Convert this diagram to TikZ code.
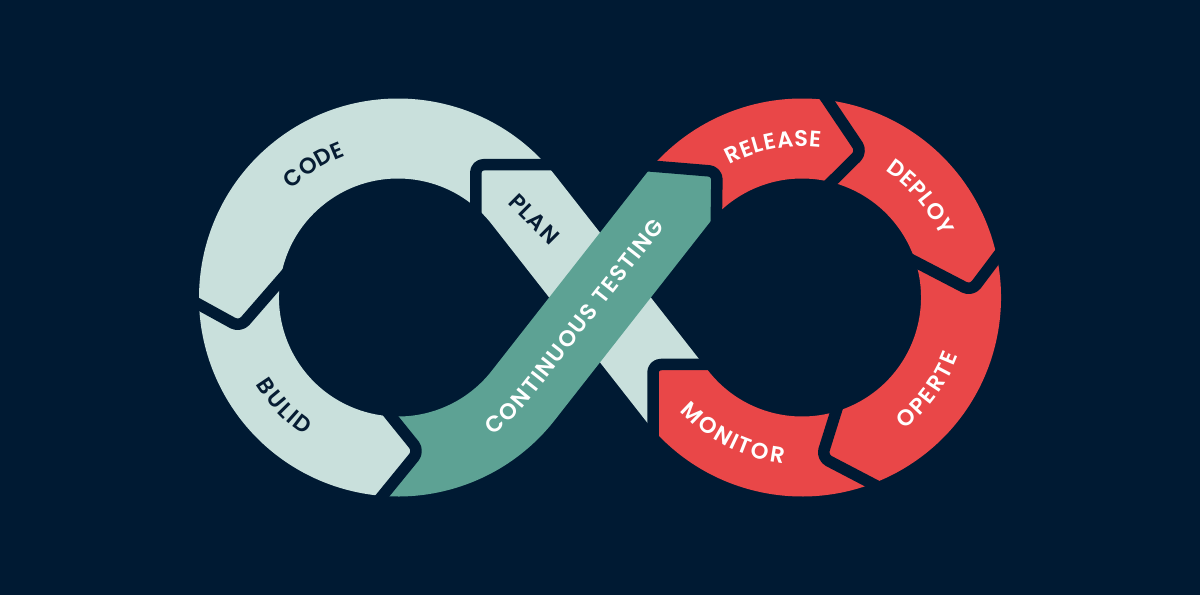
\documentclass[tikz,border=0pt]{standalone}
\usepackage{fontspec}
\setmainfont{Poppins}
\newfontfamily\labfont{Poppins SemiBold}
\usetikzlibrary{decorations.text}
\definecolor{cBg}{HTML}{001A33}
\definecolor{cLight}{HTML}{C9E0DC}
\definecolor{cTeal}{HTML}{5DA294}
\definecolor{cRed}{HTML}{E94748}
\definecolor{cNavy}{HTML}{061C33}
\newcommand\lab{\labfont\fontsize{22.5}{22.5}\selectfont}
\newcommand\lsp{\kern1.3pt}
\begin{document}
\begin{tikzpicture}[x=1pt,y=1pt,
  band/.style={line width=80pt},
  gapline/.style={draw=cBg, line width=11.5pt, line join=round, line cap=round, rounded corners=8pt},
  arclbl/.style={decorate, decoration={text along path, text align=center, raise=-7.8pt, text={#1}}}]
\fill[cBg] (0,0) rectangle (1200,595);
\useasboundingbox (0,0) rectangle (1200,595);
\coordinate (Lc) at (398,297.5);
\coordinate (Rc) at (802,297.5);
\coordinate (PL) at (523.15,395.57);
\coordinate (PR) at (676.85,199.43);
\coordinate (TR) at (676.85,395.57);
\coordinate (T1) at (475.8,430.3);
\coordinate (T2) at (240,268);
\coordinate (T3) at (419,144);
\coordinate (T4) at (717,423.5);
\coordinate (T5) at (862,443.3);
\coordinate (T6) at (971.5,304);
\coordinate (T7) at (821.7,137.7);
\coordinate (T8) at (653,230.5);
% PLAN
\begin{scope}
\clip (653,130.5) -- (T8) -- (753,230.5) -- (724.1,236.4) -- (600,400) -- (575.8,430.3) -- (T1) -- (475.8,330.3) -- (629.6,162.4) -- cycle;
\draw[band, cLight] ([shift={(-120:159)}]Rc) arc[start angle=-120, end angle=-141.91, radius=159] -- (PL) arc[start angle=38.09, end angle=75, radius=159];
\end{scope}
% CODE
\begin{scope}
\clip (575.8,430.3) -- (T1) -- (475.8,330.3) -- (Lc) -- (305.6,343.5) -- (T2) -- (152.4,316.2) -- (138.2,447.5) -- (398,597.5) -- (610.1,509.6) -- cycle;
\draw[band, cLight] (547.8,364.1) -- (PL) arc[start angle=38.09, end angle=215, radius=159];
\end{scope}
% BULID
\begin{scope}
\clip (152.4,316.2) -- (T2) -- (305.6,343.5) -- (Lc) -- (356.2,221.8) -- (T3) -- (355.8,66.5) -- (295.4,15.6) -- (116.1,194.9) -- cycle;
\draw[band, cLight] ([shift={(160:159)}]Lc) arc[start angle=160, end angle=290, radius=159];
\end{scope}
% RELEASE
\begin{scope}
\clip (617.3,431.7) -- (T4) -- (715.6,323.5) -- (Rc) -- (790.8,373.1) -- (T5) -- (806.1,526.2) -- (629.9,543.2) -- cycle;
\draw[band, cRed] ([shift={(145:159)}]Rc) arc[start angle=145, end angle=50, radius=159];
\end{scope}
% DEPLOY
\begin{scope}
\clip (806.1,526.2) -- (T5) -- (790.8,373.1) -- (Rc) -- (882.8,350.2) -- (T6) -- (1031.7,383.9) -- (974.1,543.2) -- cycle;
\draw[band, cRed] ([shift={(95:159)}]Rc) arc[start angle=95, end angle=-20, radius=159];
\end{scope}
% OPERTE
\begin{scope}
\clip (1031.7,383.9) -- (T6) -- (882.8,350.2) -- (Rc) -- (851.6,233.1) -- (T7) -- (910.3,91.4) -- (994.8,67.7) -- (1102,297.5) -- cycle;
\draw[band, cRed] ([shift={(30:159)}]Rc) arc[start angle=30, end angle=-110, radius=159];
\end{scope}
% MONITOR
\begin{scope}
\clip (910.3,91.4) -- (T7) -- (851.6,233.1) -- (Rc) -- (753,230.5) -- (T8) -- (653,130.5) -- (652,37.7) -- cycle;
\draw[band, cRed] ([shift={(-60:159)}]Rc) arc[start angle=-60, end angle=-141.91, radius=159] -- (639.85,246.6);
\end{scope}
% CONTINUOUS TESTING
\begin{scope}
\clip (355.8,66.5) -- (T3) -- (356.2,221.8) -- (Lc) -- (475.9,236.4) -- (590,380) -- (617.3,431.7) -- (T4) -- (715.6,323.5) -- (650,260) -- (570.4,162.4) -- (528,72.3) -- (398,37.5) -- cycle;
\draw[band, cTeal] ([shift={(250:159)}]Lc) arc[start angle=250, end angle=321.91, radius=159] -- (TR) arc[start angle=141.91, end angle=105, radius=159];
\end{scope}
% gaps between segments
\draw[gapline] (560.8,430.3) -- (T1) -- (475.8,370.3);
\draw[gapline] (178.7,301.7) -- (T2) -- (289.2,324.6);
\draw[gapline] (374.8,89.8) -- (T3) -- (375,198.5);
\draw[gapline] (637.3,430.1) -- (T4) -- (716,353.5);
\draw[gapline] (818.4,508) -- (T5) -- (812.2,394.1);
\draw[gapline] (1013.6,359.9) -- (T6) -- (900.5,340.9);
\draw[gapline] (883.7,105.3) -- (T7) -- (842.6,204.5);
\draw[gapline] (653,150.5) -- (T8) -- (723,230.5);
% labels
\path[arclbl={|\lab\color{cNavy}\lsp|CODE}] ([shift={(162.6:159)}]Lc) arc[start angle=162.6, end angle=82.6, radius=159];
\path[arclbl={|\lab\color{cNavy}\lsp|BULID}] ([shift={(183.5:159)}]Lc) arc[start angle=183.5, end angle=263.5, radius=159];
\node[rotate=-45, font=\lab, text=cNavy] (plan) at (534,376) {P\lsp L\lsp A\lsp N};
\path[arclbl={|\lab\color{white}\lsp|CONTINUOUS TESTING}] ([shift={(-66.7:159)}]Lc) arc[start angle=-66.7, end angle=-38.09, radius=159] -- (TR);
\path[arclbl={|\lab\color{white}\lsp|RELEASE}] ([shift={(141:159)}]Rc) arc[start angle=141, end angle=61, radius=159];
\path[arclbl={|\lab\color{white}\lsp|DEPLOY}] ([shift={(80.5:159)}]Rc) arc[start angle=80.5, end angle=0.5, radius=159];
\path[arclbl={|\lab\color{white}\lsp|OPERTE}] ([shift={(-76.6:159)}]Rc) arc[start angle=-76.6, end angle=3.4, radius=159];
\path[arclbl={|\lab\color{white}\lsp|MONITOR}] ([shift={(203:159)}]Rc) arc[start angle=203, end angle=283, radius=159];
\end{tikzpicture}
\end{document}
